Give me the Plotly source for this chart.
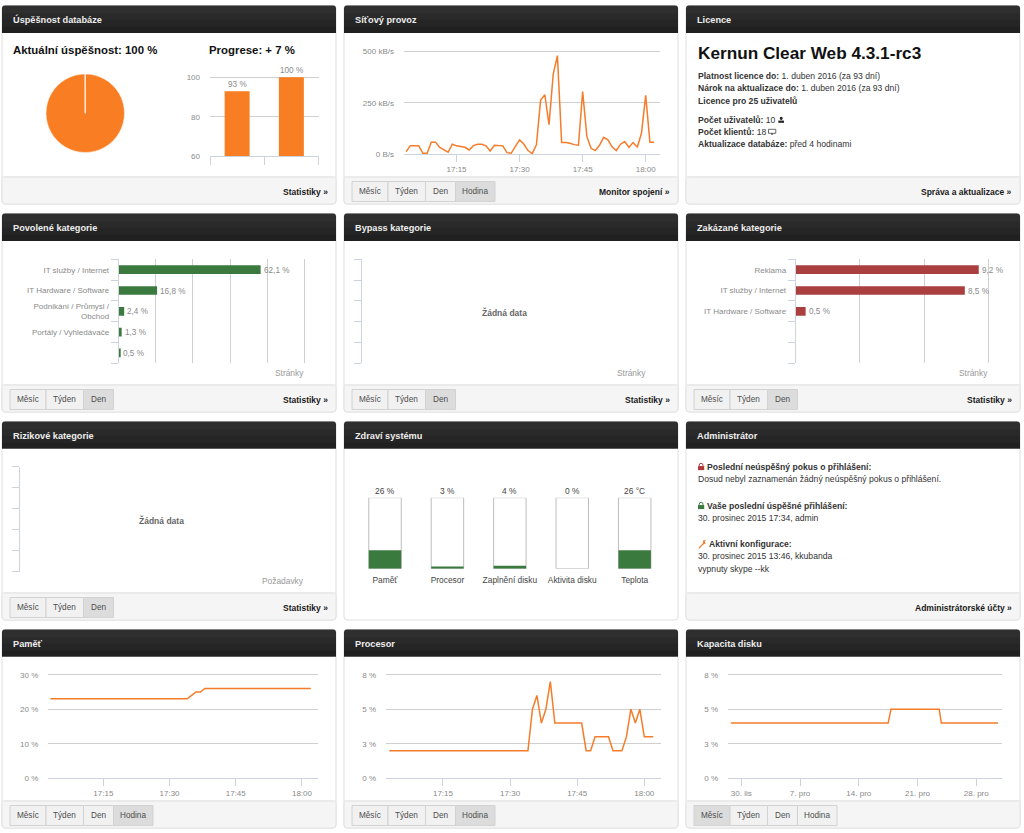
import pandas as pd
import plotly.graph_objects as go

W, H = 1024, 833
FONT = "Liberation Sans"
ORANGE = "#f97d22"
LINE_ORANGE = "#f47c2a"
GREEN = "#3a7a3f"
RED = "#ab3f3f"
GRID = "#d0d0d0"
AXIS = "#ccd3dc"
LABEL = "#8a8a8a"

# ---- data ----
quality_values = [100, 0.05]
progress_categories = ["A", "B"]
progress_values = [93, 100]
progress_labels = ["93 %", "100 %"]

minute_times = [t.strftime("%Y-%m-%d %H:%M") for t in pd.date_range("2015-12-30 17:03", periods=60, freq="min")]
hour_tickvals = ["2015-12-30 17:15", "2015-12-30 17:30", "2015-12-30 17:45", "2015-12-30 18:00"]
hour_ticktext = ["17:15", "17:30", "17:45", "18:00"]

net_values = [13, 42, 42, 41, 5, 5, 59, 59, 33, 21, 10, 49, 41, 38, 34, 21, 42, 49, 49, 41,
              16, 44, 42, 41, 8, 5, 38, 70, 50, 18, 3, 46, 263, 289, 144, 389, 479, 57, 57, 54,
              47, 44, 304, 87, 29, 18, 44, 82, 70, 36, 18, 49, 62, 34, 57, 34, 103, 286, 59, 59]
net_ticks = [0, 250, 500]
net_ticktext = ["0 B/s", "250 kB/s", "500 kB/s"]

allowed_names = ["IT služby / Internet", "IT Hardware / Software", "Podnikání / Průmysl /<br>Obchod", "Portály / Vyhledávače", ""]
allowed_values = [62.1, 16.8, 2.4, 1.3, 0.5]
allowed_labels = ["62,1 %", "16,8 %", "2,4 %", "1,3 %", "0,5 %"]
allowed_grid = [16.24, 32.48, 48.72, 64.96, 81.2]

blocked_names = ["Reklama", "IT služby / Internet", "IT Hardware / Software", "", ""]
blocked_values = [9.2, 8.5, 0.5]
blocked_labels = ["9,2 %", "8,5 %", "0,5 %"]
blocked_grid = [3.23, 6.45, 9.68]

health_names = ["Paměť", "Procesor", "Zaplnění disku", "Aktivita disku", "Teplota"]
health_values = [26, 3, 4, 0, 26]
health_scale = [100, 100, 100, 100, 100]
health_labels = ["26 %", "3 %", "4 %", "0 %", "26 °C"]

memory_values = [23] * 32 + [24, 25, 25] + [26] * 25
memory_ticks = [0, 10, 20, 30]
memory_ticktext = ["0 %", "10 %", "20 %", "30 %"]

cpu_values = [2] * 32 + [5, 6, 4, 5, 7, 4, 4, 4, 4, 4, 4, 4, 2, 2, 3, 3, 3, 3, 2, 2, 2, 3, 5, 4, 5, 3, 3, 3]
small_ticks = [0, 2.5, 5, 7.5]
small_ticktext = ["0 %", "3 %", "5 %", "8 %"]

disk_times = ["2015-11-28 18:00", "2015-12-17 12:00", "2015-12-17 20:00", "2015-12-23 14:00", "2015-12-23 20:00", "2015-12-30 14:00"]
disk_values = [4, 4, 5, 5, 4, 4]
disk_tickvals = ["2015-11-30", "2015-12-07", "2015-12-14", "2015-12-21", "2015-12-28"]
disk_ticktext = ["30. lis", "7. pro", "14. pro", "21. pro", "28. pro"]

# panel (left, top, header bottom, footer top, bottom)
col_left = [2, 344, 686]
col_right = [336, 678, 1020]
row_top = [5.5, 213.5, 421.5, 629.5]
row_head = [33, 241, 448.5, 656.5]
row_foot = [177, 385, 593, 801]
row_bottom = [204, 412, 620, 828]

panel_titles = [["Úspěšnost databáze", "Síťový provoz", "Licence"],
                ["Povolené kategorie", "Bypass kategorie", "Zakázané kategorie"],
                ["Rizikové kategorie", "Zdraví systému", "Administrátor"],
                ["Paměť", "Procesor", "Kapacita disku"]]
panel_links = [["Statistiky »", "Monitor spojení »", "Správa a aktualizace »"],
               ["Statistiky »", "Statistiky »", "Statistiky »"],
               ["Statistiky »", "", "Administrátorské účty »"],
               ["", "", ""]]
# which buttons a footer shows and which is active
panel_buttons = [[None, (4, 3), None],
                 [(3, 2), (3, 2), (3, 2)],
                 [(3, 2), None, None],
                 [(4, 3), (4, 3), (4, 0)]]
button_names = ["Měsíc", "Týden", "Den", "Hodina"]
button_widths = [36, 37.5, 30, 39.5]


def px(x):
    return x / W


def py(y):
    return 1 - y / H


shapes, notes = [], []


def text(x, y, s, size=8.6, color="#222", anchor="left", bold=False):
    notes.append(dict(x=px(x), y=py(y), xref="paper", yref="paper", showarrow=False,
                      text=f"<b>{s}</b>" if bold else s, xanchor=anchor, yanchor="middle",
                      align=anchor, borderpad=0, borderwidth=0,
                      font=dict(family=FONT, size=size, color=color)))


def rect(x0, y0, x1, y1, fill, line=None, lw=1):
    shapes.append(dict(type="rect", xref="paper", yref="paper", layer="below",
                       x0=px(x0), x1=px(x1), y0=py(y0), y1=py(y1), fillcolor=fill,
                       line=dict(color=line or fill, width=lw if line else 0)))


def path(points, fill, line=None, lw=1):
    shapes.append(dict(type="path", xref="paper", yref="paper", layer="below",
                       path=points, fillcolor=fill, line=dict(color=line or fill, width=lw if line else 0)))


def rounded(x0, y0, x1, y1, r, bottom=True):
    b = (f"L {px(x1)} {py(y1 - r)} Q {px(x1)} {py(y1)} {px(x1 - r)} {py(y1)} "
         f"L {px(x0 + r)} {py(y1)} Q {px(x0)} {py(y1)} {px(x0)} {py(y1 - r)} ") if bottom else \
        f"L {px(x1)} {py(y1)} L {px(x0)} {py(y1)} "
    return (f"M {px(x0)} {py(y0 + r)} Q {px(x0)} {py(y0)} {px(x0 + r)} {py(y0)} "
            f"L {px(x1 - r)} {py(y0)} Q {px(x1)} {py(y0)} {px(x1)} {py(y0 + r)} " + b + "Z")


for r in range(4):
    for c in range(3):
        x0, x1 = col_left[c], col_right[c]
        t, h, f, b = row_top[r], row_head[r], row_foot[r], row_bottom[r]
        path(rounded(x0, t, x1, b, 3), "#ffffff", "#dedede", 1)
        has_footer = not (r == 2 and c == 1)
        if has_footer:
            path(rounded(x0, f, x1, b, 3), "#f5f5f5", "#e2e2e2", 1)
            rect(x0 + 0.5, f, x1 - 0.5, f + 3, "#f5f5f5")
            shapes.append(dict(type="line", xref="paper", yref="paper", layer="below",
                               x0=px(x0), x1=px(x1), y0=py(f), y1=py(f), line=dict(color="#e2e2e2", width=1)))
        path(rounded(x0, t, x1, h, 3, bottom=False), "#2f2f2f")
        rect(x0, t + 8, x1, t + 14, "#2a2a2a")
        rect(x0, t + 14, x1, t + 21, "#252525")
        rect(x0, t + 21, x1, h, "#202020")
        text(x0 + 11.3, (t + h) / 2 + 0.6, panel_titles[r][c], 9.2, "#eeeeee", bold=True)
        if panel_links[r][c]:
            text(x1 - 7.7, f + 15.3, panel_links[r][c], 8.5, "#1a1a1a", "right", True)
        if panel_buttons[r][c]:
            count, active = panel_buttons[r][c]
            bx = x0 + 8
            for i in range(count):
                bw = button_widths[i]
                rect(bx, f + 4.5, bx + bw, f + 24.5, "#dcdcdc" if i == active else "#f1f1f1", "#d2d2d2", 1)
                text(bx + bw / 2, f + 14.7, button_names[i], 8.2, "#4d4d4d", "center")
                bx += bw

# panel texts
text(13.3, 50.2, "Aktuální úspěšnost: 100 %", 11.4, "#111", bold=True)
text(209.3, 50.2, "Progrese: + 7 %", 11.4, "#111", bold=True)

text(697.7, 53.3, "Kernun Clear Web 4.3.1-rc3", 17.2, "#111", bold=True)
lic = "#333"
text(697.7, 76, "<b>Platnost licence do:</b> 1. duben 2016 (za 93 dní)", 8.6, lic)
text(697.7, 88.3, "<b>Nárok na aktualizace do:</b> 1. duben 2016 (za 93 dní)", 8.6, lic)
text(697.7, 100.7, "<b>Licence pro 25 uživatelů</b>", 8.6, lic)
text(697.7, 119.7, "<b>Počet uživatelů:</b> 10", 8.6, lic)
text(697.7, 132, "<b>Počet klientů:</b> 18", 8.6, lic)
text(697.7, 144.3, "<b>Aktualizace databáze:</b> před 4 hodinami", 8.6, lic)
# user icon
shapes.append(dict(type="circle", xref="paper", yref="paper", layer="below", x0=px(779.7), x1=px(782.7),
                   y0=py(120), y1=py(116.7), fillcolor="#222", line=dict(width=0)))
rect(778.3, 120.6, 784, 122.8, "#222")
# monitor icon
rect(768.5, 129.3, 775.8, 133.3, "#ffffff", "#444", 0.8)
rect(771, 133.5, 773.3, 134.6, "#444")

text(706.7, 467.3, "<b>Poslední neúspěšný pokus o přihlášení:</b>", 8.6, lic)
text(697.7, 479.3, "Dosud nebyl zaznamenán žádný neúspěšný pokus o přihlášení.", 8.6, lic)
text(706.7, 505.7, "<b>Vaše poslední úspěšné přihlášení:</b>", 8.6, lic)
text(697.7, 517.7, "30. prosinec 2015 17:34, admin", 8.6, lic)
text(708.7, 544.3, "<b>Aktivní konfigurace:</b>", 8.6, lic)
text(697.7, 556.3, "30. prosinec 2015 13:46, kkubanda", 8.6, lic)
text(697.7, 569, "vypnuty skype --kk", 8.6, lic)
# lock icons and wrench
for ly, col in ((463.3, "#b03a3a"), (502.3, "#3a7a3f")):
    rect(698, ly + 2.8, 704.2, ly + 6.8, col)
    shapes.append(dict(type="circle", xref="paper", yref="paper", layer="below", x0=px(699.2), x1=px(703),
                       y0=py(ly + 4), y1=py(ly), fillcolor="rgba(0,0,0,0)", line=dict(color=col, width=1)))
path(f"M {px(698.3)} {py(548)} L {px(703)} {py(543)} L {px(703)} {py(540.5)} L {px(705.8)} {py(540)} "
     f"L {px(704.8)} {py(542)} L {px(705.8)} {py(543.5)} L {px(703.6)} {py(544.2)} L {px(699.5)} {py(548.6)} Z", "#e8832f")

# "no data" and axis captions
text(304, 373, "Stránky", 8.4, "#999", "right")
text(646, 373, "Stránky", 8.4, "#999", "right")
text(988, 373, "Stránky", 8.4, "#999", "right")
text(303.7, 581, "Požadavky", 8.4, "#999", "right")
text(504, 312.3, "Žádná data", 8.5, "#666", "center", True)
text(161, 520, "Žádná data", 8.5, "#666", "center", True)

fig = go.Figure()
layout = {}


def dom(a, b):
    return [a / W, b / W]


def ydom(top, bottom):
    return [1 - bottom / H, 1 - top / H]


def set_axes(n, x, y):
    s = "" if n == 1 else str(n)
    x.update(anchor=f"y{s}", automargin=False)
    y.update(anchor=f"x{s}", automargin=False)
    layout[f"xaxis{s}"] = x
    layout[f"yaxis{s}"] = y
    return f"x{s}", f"y{s}"


tick_font = dict(family=FONT, size=8.0, color=LABEL)

# quality pie
fig.add_trace(go.Pie(values=quality_values, sort=False, direction="clockwise", rotation=0,
                     marker=dict(colors=[ORANGE, ORANGE], line=dict(color="#fff2e6", width=0.6)),
                     textinfo="none", showlegend=False,
                     domain=dict(x=dom(46, 124.5), y=ydom(74, 152.5))))

# progress bars; y range reaches past 100 so that the top grid line is kept
xa, ya = set_axes(1,
                  dict(domain=dom(210, 318.5), range=[-0.5, 1.5], tickmode="array",
                       tickvals=[-0.5, 0.5, 1.5], ticktext=["", "", ""], ticks="outside", ticklen=8,
                       tickcolor=AXIS, showline=True, linecolor=AXIS, showgrid=False, zeroline=False, type="linear"),
                  dict(domain=ydom(67.4, 156.4), range=[60, 105], tickmode="array", tickvals=[60, 80, 100],
                       showgrid=True, gridcolor=GRID, gridwidth=1, zeroline=False, tickfont=tick_font,
                       ticks="", ticklabelstandoff=9))
fig.add_trace(go.Bar(x=[0, 1], y=progress_values, width=0.46, marker=dict(color=ORANGE, line=dict(width=0)),
                     xaxis=xa, yaxis=ya, showlegend=False))
for i, label in enumerate(progress_labels):
    notes.append(dict(x=i, y=progress_values[i], xref=xa, yref=ya, showarrow=False, text=label, yanchor="bottom",
                      yshift=1.5, borderpad=0, font=dict(family=FONT, size=8.2, color=LABEL)))


def line_panel(n, xdomain, ytop, ybot, xrange, tickvals, ticktext, x, y, yrange, yticks, yticktext, standoff=9):
    extra = 6
    top = yrange[1] * (1 + extra / (ybot - ytop))
    xa, ya = set_axes(n,
                      dict(domain=dom(*xdomain), range=xrange, type="date", tickmode="array", tickvals=tickvals,
                           ticktext=ticktext, ticks="outside", ticklen=7, tickcolor=AXIS, showline=True,
                           linecolor=AXIS, showgrid=False, zeroline=False, tickfont=tick_font),
                      dict(domain=ydom(ytop - extra, ybot), range=[yrange[0], top], tickmode="array", tickvals=yticks,
                           ticktext=yticktext, showgrid=True, gridcolor=GRID, gridwidth=1, zeroline=False,
                           tickfont=tick_font, ticks="", ticklabelstandoff=standoff))
    fig.add_trace(go.Scatter(x=x, y=y, mode="lines", line=dict(color=LINE_ORANGE, width=1.5), cliponaxis=False,
                             xaxis=xa, yaxis=ya, showlegend=False))


line_panel(2, (404, 660), 51.3, 154.3, ["2015-12-30 17:02:30", "2015-12-30 18:03:24"], hour_tickvals, hour_ticktext,
           minute_times, net_values, [0, 500], net_ticks, net_ticktext)
line_panel(8, (48.3, 318.3), 674.7, 778.3, ["2015-12-30 17:02:32", "2015-12-30 18:03:42"], hour_tickvals, hour_ticktext,
           minute_times, memory_values, [0, 30], memory_ticks, memory_ticktext)
line_panel(9, (386, 661), 674.7, 778.3, ["2015-12-30 17:02:16", "2015-12-30 18:03:44"], hour_tickvals, hour_ticktext,
           minute_times, cpu_values, [0, 7.5], small_ticks, small_ticktext)
line_panel(10, (728, 1002.3), 674.7, 778.3, ["2015-11-28 09:58", "2015-12-31 02:24"], disk_tickvals, disk_ticktext,
           disk_times, disk_values, [0, 7.5], small_ticks, small_ticktext)


def hbar_panel(n, xdomain, ytop, ybot, xmax, grid, names, values, labels, color):
    xa, ya = set_axes(n,
                      dict(domain=dom(*xdomain), range=[0, xmax], tickmode="array", tickvals=grid,
                           ticktext=[""] * len(grid), ticks="", showgrid=bool(grid), gridcolor=GRID, gridwidth=1,
                           showline=False, zeroline=False),
                      dict(domain=ydom(ytop, ybot), range=[4.5, -0.5], tickmode="array", tickvals=list(range(5)),
                           ticktext=names, ticks="outside", ticklen=7, tickcolor="rgba(0,0,0,0)",
                           showgrid=False, zeroline=False, showline=True, linecolor=AXIS, linewidth=1,
                           tickfont=tick_font,
                           minor=dict(tickmode="array", tickvals=[-0.5, 0.5, 1.5, 2.5, 3.5, 4.5], ticks="outside",
                                      ticklen=7, tickcolor=AXIS, showgrid=False)))
    fig.add_trace(go.Bar(y=list(range(len(values))), x=values, orientation="h", width=0.42,
                         marker=dict(color=color, line=dict(width=0)), xaxis=xa, yaxis=ya, showlegend=False))
    for i, label in enumerate(labels):
        notes.append(dict(x=values[i], y=i, xref=xa, yref=ya, showarrow=False, text=label, xanchor="left",
                          xshift=2, yshift=-0.5, borderpad=0, font=dict(family=FONT, size=8.2, color=LABEL)))


# x range runs past the last grid line so that it is kept; scale stays
hbar_panel(3, (118.7, 320), 259.3, 363.3, 88.07, allowed_grid, allowed_names, allowed_values, allowed_labels, GREEN)
hbar_panel(4, (362.3, 646), 259.3, 363.3, 100, [], [""] * 5, [], [], GREEN)
hbar_panel(5, (795.7, 1005), 259.3, 363.3, 10.52, blocked_grid, blocked_names, blocked_values, blocked_labels, RED)
hbar_panel(6, (19.7, 304), 466.7, 571.7, 100, [], [""] * 5, [], [], GREEN)

# system health
xa, ya = set_axes(7,
                  dict(domain=dom(353.8, 665.9), range=[-0.5, 4.5], tickmode="array", tickvals=list(range(5)),
                       ticktext=health_names, ticks="outside", ticklen=3, tickcolor="rgba(0,0,0,0)",
                       showgrid=False, zeroline=False, showline=False,
                       tickfont=dict(family=FONT, size=8.4, color="#444")),
                  dict(domain=ydom(497.7, 568.7), range=[0, 100], visible=False))
fig.add_trace(go.Bar(x=list(range(5)), y=health_scale, width=0.52,
                     marker=dict(color="#ffffff", line=dict(color="#bdbdbd", width=1)),
                     xaxis=xa, yaxis=ya, showlegend=False))
fig.add_trace(go.Bar(x=list(range(5)), y=health_values, width=0.52, marker=dict(color=GREEN, line=dict(width=0)),
                     xaxis=xa, yaxis=ya, showlegend=False))
for i, label in enumerate(health_labels):
    notes.append(dict(x=i, y=health_scale[i], xref=xa, yref=ya, showarrow=False, text=label, yanchor="bottom",
                      yshift=0.5, borderpad=0, font=dict(family=FONT, size=8.4, color="#444")))

fig.update_layout(width=W, height=H, autosize=False, template="none",
                  margin=dict(l=0, r=0, t=0, b=0, pad=0, autoexpand=False),
                  paper_bgcolor="#ffffff", plot_bgcolor="rgba(0,0,0,0)", barmode="overlay", showlegend=False,
                  font=dict(family=FONT, size=8.0, color=LABEL), shapes=shapes, annotations=notes, **layout)

fig.write_html("out.html", config={"displayModeBar": False},
               post_script="document.body.style.margin='0';document.body.style.overflow='hidden';")
